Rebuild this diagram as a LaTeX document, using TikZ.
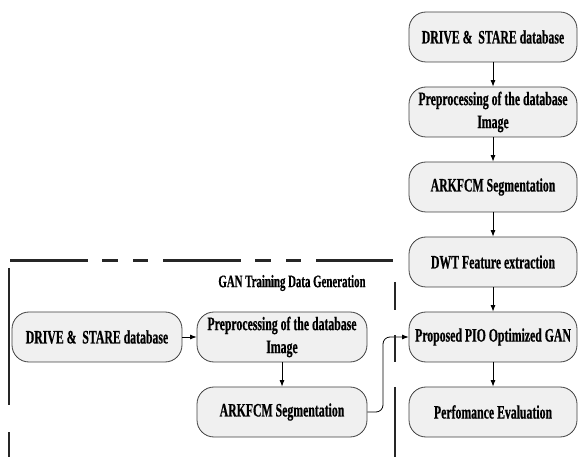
\documentclass[tikz,border=0pt]{standalone}
\usepackage{fontspec}
\setmainfont[FakeStretch=0.62,BoldFeatures={FakeBold=0.6}]{Liberation Serif}
\usetikzlibrary{arrows.meta}
\begin{document}
\begin{tikzpicture}[x=1pt,y=-1pt,
  procbox/.style={draw=black!75, line width=0.8pt, fill=black!6,
    rounded corners=17pt, minimum width=168pt, minimum height=50pt,
    inner sep=2pt, align=center,
    font=\fontsize{19}{23}\selectfont\bfseries},
  flow/.style={draw, line width=0.8pt, -{Latex[length=6.5pt,width=5pt]}},
  frameline/.style={line width=1.6pt, black!85}]
\useasboundingbox (0,0) rectangle (579,457);

% main pipeline (right column)
\node[procbox] (dr) at (493,37)  {DRIVE \&\ \ STARE database};
\node[procbox] (pr) at (493,112) {Preprocessing of the database\\Image};
\node[procbox] (ar) at (493,187) {ARKFCM Segmentation};
\node[procbox] (dw) at (493,262) {DWT Feature extraction};
\node[procbox] (pi) at (493,337) {Proposed PIO Optimized GAN};
\node[procbox] (pe) at (493,412) {Perfomance Evaluation};

\draw[flow] (dr) -- (pr);
\draw[flow] (pr) -- (ar);
\draw[flow] (ar) -- (dw);
\draw[flow] (dw) -- (pi);
\draw[flow] (pi) -- (pe);

% GAN training data branch
\node[procbox, minimum width=170pt] (dl) at (97,337)  {DRIVE \&\ \ STARE database};
\node[procbox, minimum width=170pt] (pl) at (282,337) {Preprocessing of the database\\Image};
\node[procbox, minimum width=170pt] (al) at (282,412) {ARKFCM Segmentation};

\draw[flow] (dl) -- (pl);
\draw[flow] (pl) -- (al);
\coordinate (bend) at (383,337);
\draw[flow, rounded corners=7pt] (al.east) -| (bend) -- (pi.west);

% dashed frame around the branch
\draw[line width=3pt, black!85,
  dash pattern=on 78pt off 14pt on 16pt off 15pt on 15pt off 15pt]
  (10,261) coordinate (ftl) -- (393,261) coordinate (ftr);
\draw[frameline] (9,268) -- (9,405);
\draw[frameline] (9,432) -- (9,457);
\draw[frameline] (395,282) -- (395,310);
\draw[frameline] (395,335) -- (395,362);
\draw[frameline] (395,387) -- (395,457);

\node[font=\fontsize{17.5}{21}\selectfont\bfseries] (gl) at (292,283)
  {GAN Training Data Generation};
\end{tikzpicture}
\end{document}
